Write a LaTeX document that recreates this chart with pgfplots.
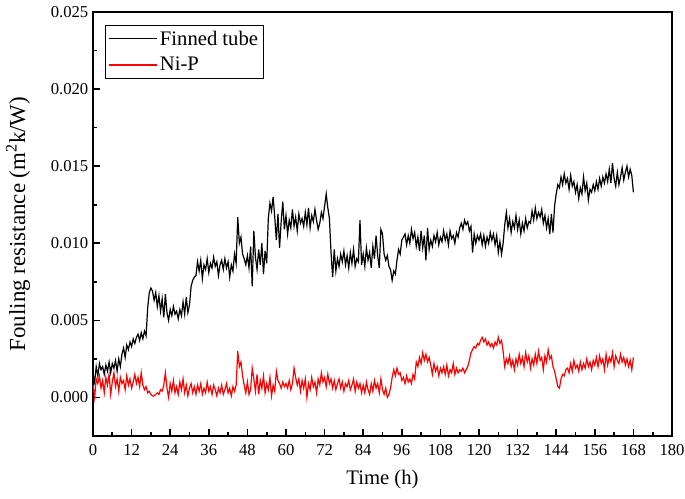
\documentclass[border=0pt]{standalone}
\usepackage{fontspec}
\setmainfont{Liberation Serif}
\usepackage{pgfplots}
\usepackage{pgfplotstable}
\pgfplotsset{compat=1.18}

\pgfplotstableread{
t F N
0 0.0015 0.0008
0.5 0.0010 0.0000
1 0.0020 0.0012
1.5 0.0014 0.0009
2 0.0022 0.0014
2.5 0.0018 0.0006
3 0.0020 0.0011
3.5 0.0015 0.0003
4 0.0021 0.0013
4.5 0.0017 0.0008
5 0.0023 0.0015
5.5 0.0016 0.0002
6 0.0022 0.0010
6.5 0.0019 0.0016
7 0.0024 0.0007
7.5 0.0017 0.0012
8 0.0025 0.0004
8.5 0.0020 0.0013
9 0.0028 0.0009
9.5 0.0032 0.0011
10 0.0026 0.0005
10.5 0.0034 0.0014
11 0.0031 0.0008
11.5 0.0036 0.0012
12 0.0033 0.0006
12.5 0.0038 0.0010
13 0.0035 0.0015
13.5 0.0039 0.0009
14 0.0041 0.0013
14.5 0.0037 0.0007
15 0.0042 0.0016
15.5 0.0038 0.0008
16 0.0043 0.0005
16.5 0.0040 0.0007
17 0.0058 0.0003
17.5 0.0068 0.0004
18 0.0071 0.0002
18.5 0.0069 0.0001
19 0.0063 0.0001
19.5 0.0068 0.0002
20 0.0059 0.0003
20.5 0.0066 0.0002
21 0.0056 0.0005
21.5 0.0064 0.0004
22 0.0052 0.0008
22.5 0.0067 0.0016
23 0.0055 0.0006
23.5 0.0050 0.0000
24 0.0057 0.0009
24.5 0.0053 0.0004
25 0.0059 0.0011
25.5 0.0054 0.0003
26 0.0056 0.0007
26.5 0.0051 0.0002
27 0.0057 0.0010
27.5 0.0053 0.0005
28 0.0062 0.0012
28.5 0.0054 0.0003
29 0.0065 0.0008
29.5 0.0055 0.0001
30 0.0060 0.0006
30.5 0.0072 0.0009
31 0.0076 0.0003
31.5 0.0078 0.0007
32 0.0079 0.0002
32.5 0.0088 0.0008
33 0.0082 0.0004
33.5 0.0089 0.0009
34 0.0077 0.0002
34.5 0.0086 0.0006
35 0.0083 0.0003
35.5 0.0090 0.0010
36 0.0081 0.0004
36.5 0.0087 0.0007
37 0.0084 0.0002
37.5 0.0091 0.0008
38 0.0085 0.0005
38.5 0.0088 0.0001
39 0.0079 0.0006
39.5 0.0086 0.0003
40 0.0089 0.0008
40.5 0.0083 0.0002
41 0.0090 0.0005
41.5 0.0084 0.0009
42 0.0088 0.0003
42.5 0.0078 0.0006
43 0.0086 0.0001
43.5 0.0082 0.0007
44 0.0093 0.0004
44.5 0.0087 0.0008
45 0.0117 0.0030
45.5 0.0100 0.0020
46 0.0104 0.0023
46.5 0.0093 0.0014
47 0.0090 0.0008
47.5 0.0086 0.0003
48 0.0092 0.0010
48.5 0.0084 0.0002
49 0.0098 0.0005
49.5 0.0072 0.0019
50 0.0108 0.0012
50.5 0.0091 0.0004
51 0.0083 0.0015
51.5 0.0096 0.0002
52 0.0086 0.0011
52.5 0.0100 0.0006
53 0.0080 0.0014
53.5 0.0095 0.0003
54 0.0087 0.0009
54.5 0.0116 0.0005
55 0.0126 0.0013
55.5 0.0121 0.0001
56 0.0130 0.0008
56.5 0.0117 0.0004
57 0.0102 0.0017
57.5 0.0119 0.0011
58 0.0097 0.0009
58.5 0.0114 0.0006
59 0.0127 0.0010
59.5 0.0109 0.0007
60 0.0118 0.0009
60.5 0.0106 0.0006
61 0.0115 0.0011
61.5 0.0110 0.0005
62 0.0122 0.0009
62.5 0.0111 0.0019
63 0.0117 0.0013
63.5 0.0108 0.0008
64 0.0119 0.0012
64.5 0.0113 0.0004
65 0.0116 0.0011
65.5 0.0111 0.0006
66 0.0120 0.0012
66.5 0.0112 0.0000
67 0.0123 0.0009
67.5 0.0110 0.0005
68 0.0118 0.0013
68.5 0.0114 0.0007
69 0.0122 0.0010
69.5 0.0115 0.0003
70 0.0109 0.0012
70.5 0.0113 0.0008
71 0.0120 0.0016
71.5 0.0116 0.0010
72 0.0124 0.0013
72.5 0.0132 0.0007
73 0.0123 0.0015
73.5 0.0116 0.0009
74 0.0094 0.0012
74.5 0.0078 0.0006
75 0.0096 0.0011
75.5 0.0082 0.0005
76 0.0090 0.0009
76.5 0.0085 0.0012
77 0.0093 0.0006
77.5 0.0088 0.0010
78 0.0095 0.0004
78.5 0.0086 0.0009
79 0.0092 0.0007
79.5 0.0084 0.0011
80 0.0094 0.0005
80.5 0.0087 0.0008
81 0.0096 0.0012
81.5 0.0085 0.0004
82 0.0090 0.0010
82.5 0.0088 0.0006
83 0.0115 0.0009
83.5 0.0086 0.0003
84 0.0093 0.0008
84.5 0.0085 0.0003
85 0.0097 0.0010
85.5 0.0089 0.0005
86 0.0094 0.0002
86.5 0.0084 0.0009
87 0.0098 0.0004
87.5 0.0090 0.0011
88 0.0105 0.0006
88.5 0.0092 0.0009
89 0.0084 0.0003
89.5 0.0109 0.0012
90 0.0106 0.0005
90.5 0.0093 0.0002
91 0.0089 0.0006
91.5 0.0092 0.0000
92 0.0085 0.0002
92.5 0.0083 0.0006
93 0.0076 0.0013
93.5 0.0082 0.0018
94 0.0080 0.0014
94.5 0.0089 0.0019
95 0.0096 0.0015
95.5 0.0093 0.0016
96 0.0102 0.0011
96.5 0.0104 0.0013
97 0.0106 0.0009
97.5 0.0099 0.0014
98 0.0105 0.0010
98.5 0.0100 0.0012
99 0.0109 0.0009
99.5 0.0103 0.0015
100 0.0107 0.0012
100.5 0.0098 0.0023
101 0.0104 0.0020
101.5 0.0095 0.0026
102 0.0108 0.0022
102.5 0.0097 0.0029
103 0.0105 0.0024
103.5 0.0089 0.0028
104 0.0110 0.0023
104.5 0.0096 0.0026
105 0.0102 0.0021
105.5 0.0098 0.0015
106 0.0105 0.0022
106.5 0.0101 0.0017
107 0.0107 0.0020
107.5 0.0099 0.0014
108 0.0104 0.0019
108.5 0.0101 0.0016
109 0.0108 0.0020
109.5 0.0102 0.0015
110 0.0106 0.0021
110.5 0.0099 0.0014
111 0.0108 0.0018
111.5 0.0103 0.0016
112 0.0105 0.0022
112.5 0.0100 0.0015
113 0.0107 0.0019
113.5 0.0104 0.0016
114 0.0110 0.0018
114.5 0.0113 0.0017
115 0.0109 0.0019
115.5 0.0115 0.0016
116 0.0112 0.0018
116.5 0.0114 0.0020
117 0.0108 0.0024
117.5 0.0111 0.0029
118 0.0094 0.0031
118.5 0.0106 0.0033
119 0.0100 0.0032
119.5 0.0105 0.0035
120 0.0102 0.0034
120.5 0.0106 0.0037
121 0.0099 0.0039
121.5 0.0105 0.0036
122 0.0098 0.0038
122.5 0.0104 0.0034
123 0.0100 0.0036
123.5 0.0107 0.0033
124 0.0102 0.0035
124.5 0.0106 0.0032
125 0.0099 0.0036
125.5 0.0105 0.0034
126 0.0094 0.0039
126.5 0.0101 0.0035
127 0.0093 0.0037
127.5 0.0100 0.0030
128 0.0112 0.0020
128.5 0.0120 0.0025
129 0.0110 0.0022
129.5 0.0116 0.0027
130 0.0107 0.0020
130.5 0.0114 0.0024
131 0.0110 0.0018
131.5 0.0118 0.0025
132 0.0109 0.0021
132.5 0.0115 0.0028
133 0.0106 0.0022
133.5 0.0113 0.0026
134 0.0108 0.0020
134.5 0.0116 0.0029
135 0.0110 0.0023
135.5 0.0114 0.0027
136 0.0113 0.0019
136.5 0.0121 0.0025
137 0.0115 0.0021
137.5 0.0123 0.0028
138 0.0116 0.0022
138.5 0.0120 0.0030
139 0.0117 0.0024
139.5 0.0122 0.0026
140 0.0113 0.0018
140.5 0.0118 0.0027
141 0.0110 0.0023
141.5 0.0116 0.0031
142 0.0106 0.0025
142.5 0.0119 0.0027
143 0.0107 0.0020
143.5 0.0124 0.0017
144 0.0132 0.0012
144.5 0.0138 0.0007
145 0.0136 0.0006
145.5 0.0143 0.0012
146 0.0138 0.0015
146.5 0.0145 0.0014
147 0.0139 0.0018
147.5 0.0142 0.0019
148 0.0135 0.0016
148.5 0.0144 0.0022
149 0.0137 0.0017
149.5 0.0140 0.0024
150 0.0133 0.0019
150.5 0.0138 0.0021
151 0.0129 0.0017
151.5 0.0136 0.0023
152 0.0132 0.0018
152.5 0.0143 0.0022
153 0.0134 0.0019
153.5 0.0139 0.0025
154 0.0128 0.0020
154.5 0.0135 0.0023
155 0.0133 0.0018
155.5 0.0138 0.0024
156 0.0134 0.0021
156.5 0.0140 0.0026
157 0.0135 0.0020
157.5 0.0142 0.0027
158 0.0137 0.0022
158.5 0.0143 0.0025
159 0.0139 0.0018
159.5 0.0145 0.0028
160 0.0140 0.0021
160.5 0.0148 0.0026
161 0.0139 0.0023
161.5 0.0152 0.0029
162 0.0142 0.0020
162.5 0.0137 0.0027
163 0.0146 0.0024
163.5 0.0138 0.0022
164 0.0143 0.0028
164.5 0.0149 0.0023
165 0.0141 0.0026
165.5 0.0146 0.0021
166 0.0150 0.0025
166.5 0.0143 0.0020
167 0.0148 0.0024
167.5 0.0144 0.0018
168 0.0133 0.0026
}\data

\begin{document}
\begin{tikzpicture}
\begin{axis}[
  scale only axis,
  width=434.25pt, height=318pt,
  xmin=0, xmax=180, ymin=-0.0025, ymax=0.025,
  xtick={0,12,...,180}, minor x tick num=1,
  ytick={0,0.005,0.01,0.015,0.02,0.025}, minor y tick num=1,
  xtick pos=bottom, ytick pos=left,
  tick align=inside,
  major tick length=5pt, minor tick length=3pt,
  axis line style={line width=1.4pt},
  every tick/.style={black, line width=1.2pt},
  scaled y ticks=false,
  yticklabel style={/pgf/number format/.cd, fixed, fixed zerofill, precision=3},
  xticklabel style={yshift=-3pt},
  /pgf/number format/assume math mode=true,
  tick label style={font=\fontsize{12.5}{14}\selectfont},
  xlabel={Time (h)},
  ylabel={Fouling resistance (m\textsuperscript{2}k/W)},
  x label style={at={(axis description cs:0.5,-0.1038)}, anchor=center, font=\fontsize{15.5}{18}\selectfont},
  y label style={at={(axis description cs:-0.1295,0.5)}, anchor=center, font=\fontsize{17.2}{20}\selectfont},
  legend style={at={(axis description cs:0,1)}, anchor=north west,
    xshift=9pt, yshift=-9.75pt, draw=black, line width=0.6pt,
    font=\fontsize{15.5}{18}\selectfont, inner sep=2pt, row sep=3.5pt},
  legend cell align=left,
  legend image code/.code={\draw[#1, line width=0.9pt] (0pt,0pt) -- (36pt,0pt);},
]
\addplot[black, line width=0.9pt] table[x=t, y=F] {\data};
\addlegendentry{Finned tube}
\addplot[red, line width=0.9pt] table[x=t, y=N] {\data};
\addlegendentry{Ni-P}
\end{axis}
\pgfresetboundingbox
\path ([xshift=-69.75pt, yshift=-47.25pt]current axis.south west) rectangle ([xshift=9.75pt, yshift=9pt]current axis.north east);
\end{tikzpicture}
\end{document}
